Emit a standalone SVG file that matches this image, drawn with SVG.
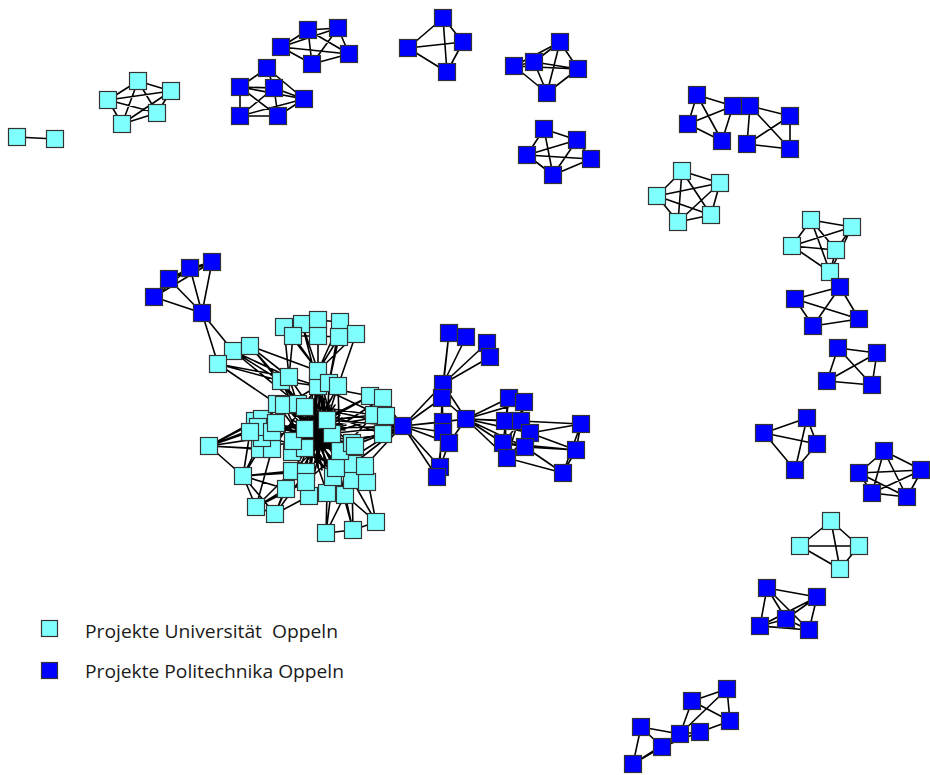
<svg xmlns="http://www.w3.org/2000/svg" xmlns:xlink="http://www.w3.org/1999/xlink" width="930" height="775" viewBox="0 0 930 775">
<style>
  .e { fill: none; stroke: #000; stroke-width: 1.6; stroke-linecap: round; }
  .lg { font-family: "Open Sans", "Noto Sans", "Liberation Sans", sans-serif; font-size: 17.5px; fill: #1a1a1a; }
</style>
<defs>
  <!-- node squares, centred on the use position -->
  <rect id="uni" x="-8.5" y="-8.5" width="17" height="17" fill="#80ffff" stroke="#333" stroke-width="1.2"/>
  <rect id="pol" x="-8.5" y="-8.5" width="17" height="17" fill="#0000ff" stroke="#333" stroke-width="1.2"/>
</defs>
<rect width="930" height="775" fill="#fff"/>

<g id="connectors">
  <!-- small isolated components -->
  <path class="e" d="M17 137L55 139"/>
  <path class="e" d="M108 100L138 81M108 100L171 91M108 100L157 113M108 100L122 124M138 81L171 91M138 81L157 113M138 81L122 124M171 91L157 113M171 91L122 124M157 113L122 124"/>
  <path class="e" d="M281 47L308 30M281 47L338 28M281 47L349 54M281 47L312 64M308 30L338 28M308 30L312 64M308 30L349 54M338 28L349 54M338 28L312 64M349 54L312 64"/>
  <path class="e" d="M267 68L240 87M267 68L274 88M267 68L304 99M240 87L274 88M240 87L240 116M240 87L278 116M240 87L304 99M274 88L240 116M274 88L304 99M274 88L278 116M240 116L278 116M240 116L304 99M278 116L304 99"/>
  <path class="e" d="M408 48L443 18M408 48L463 42M408 48L447 72M443 18L463 42M443 18L447 72M463 42L447 72"/>
  <path class="e" d="M514 66L534 62M514 66L560 42M514 66L578 69M514 66L547 93M534 62L560 42M534 62L578 69M534 62L547 93M560 42L578 69M560 42L547 93M578 69L547 93"/>
  <path class="e" d="M544 129L577 140M544 129L527 155M544 129L553 175M527 155L577 140M527 155L591 159M527 155L553 175M577 140L553 175M577 140L591 159M591 159L553 175"/>
  <path class="e" d="M697 95L688 124M697 95L733 106M697 95L722 141M688 124L733 106M688 124L722 141M733 106L722 141M750 106L790 116M750 106L747 144M750 106L790 149M790 116L747 144M790 116L790 149M747 144L790 149"/>
  <path class="e" d="M682 171L720 183M682 171L657 196M682 171L711 215M682 171L678 222M720 183L657 196M720 183L711 215M720 183L678 222M657 196L711 215M657 196L678 222M711 215L678 222"/>
  <path class="e" d="M811 220L852 227M811 220L792 246M811 220L836 250M811 220L830 272M852 227L792 246M852 227L836 250M852 227L830 272M792 246L836 250M792 246L830 272M836 250L830 272"/>
  <path class="e" d="M840 287L795 299M840 287L813 326M840 287L859 319M795 299L859 319M795 299L813 326M813 326L859 319"/>
  <path class="e" d="M838 348L877 353M838 348L827 381M838 348L872 385M877 353L827 381M877 353L872 385M827 381L872 385"/>
  <path class="e" d="M807 418L764 433M807 418L817 444M807 418L795 470M764 433L817 444M764 433L795 470M817 444L795 470"/>
  <path class="e" d="M884 451L859 473M884 451L922 470M884 451L872 493M884 451L907 497M859 473L922 470M859 473L872 493M859 473L907 497M922 470L872 493M922 470L907 497M872 493L907 497"/>
  <path class="e" d="M831 521L800 546M831 521L859 546M831 521L840 569M800 546L859 546M800 546L840 569M859 546L840 569"/>
  <path class="e" d="M767 588L817 597M767 588L786 619M767 588L760 626M767 588L809 630M817 597L786 619M817 597L809 630M786 619L760 626M786 619L809 630M760 626L809 630M760 626L817 597"/>
  <path class="e" d="M692 701L727 689M692 701L730 721M727 689L730 721M727 689L680 734M692 701L680 734M730 721L700 732M680 734L700 732M641 727L680 734M641 727L662 747M641 727L633 764M662 747L633 764M662 747L680 734M662 747L700 732M633 764L680 734"/>

  <!-- blue fan above the large cluster -->
  <path class="e" d="M154 297L169 279M154 297L190 268M154 297L212 262M169 279L190 268M169 279L212 262M190 268L212 262M154 297L202 313M169 279L202 313M190 268L202 313M212 262L202 313M202 313L218 364M202 313L233 351"/>

  <!-- large cluster: outer groups into the core -->
  <path class="e" d="M284 327L318 371M284 327L289 377M302 324L318 371M302 324L318 386M318 320L318 371M318 320L318 386M340 322L318 371M340 322L329 383M356 334L318 371M356 334L338 386M293 336L318 371M293 336L289 377M318 336L318 371M339 337L318 371M339 337L329 383M284 327L302 324M302 324L318 320M318 320L340 322M340 322L356 334M293 336L318 336M318 336L339 337"/>
  <path class="e" d="M218 364L233 351M233 351L250 346M218 364L281 381M218 364L289 377M218 364L277 404M233 351L281 381M233 351L289 377M233 351L298 404M250 346L281 381M250 346L289 377M250 346L318 371M250 346L298 404"/>
  <path class="e" d="M281 381L318 386M281 381L298 404M281 381L305 429M281 381L327 434M289 377L318 386M289 377L305 429M289 377L340 451M318 371L318 386M318 371L327 420M318 371L305 429M318 371L340 451M318 386L327 420M318 386L305 448M318 386L327 434M329 383L327 434M329 383L305 429M338 386L327 420M338 386L340 451M338 386L305 448"/>
  <path class="e" d="M370 396L402 426M383 398L402 426M374 415L402 426M386 416L402 426M383 434L402 426M370 396L327 420M370 396L305 429M370 396L318 386M383 398L327 434M383 398L305 448M374 415L327 420M374 415L298 404M374 415L340 451M386 416L305 429M386 416L327 434M383 434L340 451M383 434L305 448M383 434L298 404M402 426L352 443M402 426L340 451M402 426L327 434M402 426L305 429M402 426L327 420M402 426L365 466M402 426L353 464M402 426L318 386M402 426L336 468M402 426L298 404"/>
  <path class="e" d="M255 421L305 429M262 419L318 386M258 427L327 434M250 432L305 448M272 432L327 420M276 423L340 451M262 438L305 429M260 449L327 434M272 449L318 386M277 404L327 434M284 405L305 448M298 404L340 451M305 407L327 434M293 441L340 451M292 452L327 420M305 448L352 443M332 434L292 471M340 451L306 482M352 443L292 452M355 446L305 429M365 466L305 429M353 464L298 404M336 468L318 386M292 471L327 420M306 472L318 386M306 482L327 434M333 477L305 429M352 480L305 448M367 482L327 420M286 489L327 434M309 496L318 386M327 493L305 429M345 495L327 420M298 404L336 468M305 407L333 477M318 386L327 493M284 405L352 480M277 404L345 495M327 420L309 496M262 419L340 451M255 421L327 434M250 432L327 420M298 404L305 448M305 407L340 451M318 386L305 448M284 405L327 434M298 404L352 443M305 429L353 464M327 420L306 472M293 441L336 468M305 448L333 477"/>
  <!-- dense heart of the cluster -->
  <path class="e" d="M300 400L330 470M305 400L340 465M310 398L322 470M315 395L318 468M320 395L310 470M325 398L300 468M330 400L296 460M335 405L300 455M290 410L345 455M292 420L348 448M295 430L350 440M296 440L346 425M300 450L340 415M305 455L335 410M310 460L330 405M315 462L325 402M290 425L345 430M292 435L344 442M300 415L340 440M298 445L342 418M310 420L330 460M318 412L318 466M305 410L338 462M332 410L306 462"/>
  <path class="e" d="M209 446L255 421M209 446L258 427M209 446L250 432M209 446L262 438M209 446L260 449M209 446L272 449M209 446L262 419M209 446L243 476M243 476L260 449M243 476L262 438M243 476L292 471M243 476L286 489M243 476L306 472M243 476L256 507M243 476L275 514M243 476L250 432M256 507L275 514M256 507L286 489M256 507L292 471M256 507L306 482M256 507L272 449M275 514L286 489M275 514L292 471M275 514L306 472M275 514L309 496"/>
  <path class="e" d="M326 533L327 493M326 533L333 477M326 533L345 495M326 533L353 530M353 530L345 495M353 530L352 480M353 530L336 468M376 522L345 495M376 522L352 480M376 522L365 466M376 522L353 530"/>

  <!-- blue component right of the large cluster -->
  <path class="e" d="M443 384L449 333M443 384L466 337M443 384L487 343M443 384L490 357M442 398L449 333M403 426L443 384M403 426L442 398M403 426L443 422M403 426L443 432M403 426L449 443M403 426L440 467M403 426L437 477M403 426L466 419M443 384L466 419M442 398L466 419M443 422L466 419M449 443L466 419M443 384L442 398M442 398L443 422M443 422L443 432M449 443L440 467M440 467L437 477M442 398L440 467M443 432L437 477"/>
  <path class="e" d="M466 419L509 398M466 419L524 402M466 419L505 421M466 419L521 421M466 419L530 433M466 419L503 443M466 419L525 447M466 419L507 458M509 398L505 421M509 398L503 443M524 402L521 421M524 402L507 458M505 421L507 458M521 421L503 443M530 433L507 458M503 443L525 447M521 421L581 424M530 433L581 424M525 447L576 450M530 433L576 450M507 458L563 473M525 447L563 473M503 443L576 450M581 424L576 450M576 450L563 473M581 424L563 473"/>
</g>

<g id="nodes">
  <!-- Universität Oppeln -->
  <g id="u1"><use href="#uni" x="17" y="137"/></g>
  <g id="u2"><use href="#uni" x="55" y="139"/></g>
  <g id="u3"><use href="#uni" x="108" y="100"/></g>
  <g id="u4"><use href="#uni" x="138" y="81"/></g>
  <g id="u5"><use href="#uni" x="171" y="91"/></g>
  <g id="u6"><use href="#uni" x="157" y="113"/></g>
  <g id="u7"><use href="#uni" x="122" y="124"/></g>
  <g id="u8"><use href="#uni" x="682" y="171"/></g>
  <g id="u9"><use href="#uni" x="720" y="183"/></g>
  <g id="u10"><use href="#uni" x="657" y="196"/></g>
  <g id="u11"><use href="#uni" x="711" y="215"/></g>
  <g id="u12"><use href="#uni" x="678" y="222"/></g>
  <g id="u13"><use href="#uni" x="811" y="220"/></g>
  <g id="u14"><use href="#uni" x="852" y="227"/></g>
  <g id="u15"><use href="#uni" x="792" y="246"/></g>
  <g id="u16"><use href="#uni" x="836" y="250"/></g>
  <g id="u17"><use href="#uni" x="830" y="272"/></g>
  <g id="u18"><use href="#uni" x="831" y="521"/></g>
  <g id="u19"><use href="#uni" x="800" y="546"/></g>
  <g id="u20"><use href="#uni" x="859" y="546"/></g>
  <g id="u21"><use href="#uni" x="840" y="569"/></g>

  <!-- large Universität cluster -->
  <g id="c1"><use href="#uni" x="284" y="327"/></g>
  <g id="c2"><use href="#uni" x="302" y="324"/></g>
  <g id="c3"><use href="#uni" x="318" y="320"/></g>
  <g id="c4"><use href="#uni" x="340" y="322"/></g>
  <g id="c5"><use href="#uni" x="356" y="334"/></g>
  <g id="c6"><use href="#uni" x="293" y="336"/></g>
  <g id="c7"><use href="#uni" x="318" y="336"/></g>
  <g id="c8"><use href="#uni" x="339" y="337"/></g>
  <g id="c9"><use href="#uni" x="233" y="351"/></g>
  <g id="c10"><use href="#uni" x="250" y="346"/></g>
  <g id="c11"><use href="#uni" x="218" y="364"/></g>
  <g id="c12"><use href="#uni" x="209" y="446"/></g>
  <g id="c13"><use href="#uni" x="243" y="476"/></g>
  <g id="c14"><use href="#uni" x="256" y="507"/></g>
  <g id="c15"><use href="#uni" x="275" y="514"/></g>
  <g id="c16"><use href="#uni" x="326" y="533"/></g>
  <g id="c17"><use href="#uni" x="353" y="530"/></g>
  <g id="c18"><use href="#uni" x="376" y="522"/></g>
  <g id="c19"><use href="#uni" x="286" y="489"/></g>
  <g id="c20"><use href="#uni" x="309" y="496"/></g>
  <g id="c21"><use href="#uni" x="327" y="493"/></g>
  <g id="c22"><use href="#uni" x="345" y="495"/></g>
  <g id="c23"><use href="#uni" x="292" y="471"/></g>
  <g id="c24"><use href="#uni" x="306" y="472"/></g>
  <g id="c25"><use href="#uni" x="306" y="482"/></g>
  <g id="c26"><use href="#uni" x="333" y="477"/></g>
  <g id="c27"><use href="#uni" x="352" y="480"/></g>
  <g id="c28"><use href="#uni" x="367" y="482"/></g>
  <g id="c29"><use href="#uni" x="336" y="468"/></g>
  <g id="c30"><use href="#uni" x="353" y="464"/></g>
  <g id="c31"><use href="#uni" x="365" y="466"/></g>
  <g id="c32"><use href="#uni" x="260" y="449"/></g>
  <g id="c33"><use href="#uni" x="272" y="449"/></g>
  <g id="c34"><use href="#uni" x="292" y="452"/></g>
  <g id="c35"><use href="#uni" x="305" y="448"/></g>
  <g id="c36"><use href="#uni" x="340" y="451"/></g>
  <g id="c37"><use href="#uni" x="352" y="443"/></g>
  <g id="c38"><use href="#uni" x="355" y="446"/></g>
  <g id="c39"><use href="#uni" x="262" y="438"/></g>
  <g id="c40"><use href="#uni" x="293" y="441"/></g>
  <g id="c41"><use href="#uni" x="332" y="434"/></g>
  <g id="c42"><use href="#uni" x="255" y="421"/></g>
  <g id="c43"><use href="#uni" x="262" y="419"/></g>
  <g id="c44"><use href="#uni" x="258" y="427"/></g>
  <g id="c45"><use href="#uni" x="250" y="432"/></g>
  <g id="c46"><use href="#uni" x="272" y="432"/></g>
  <g id="c47"><use href="#uni" x="276" y="423"/></g>
  <g id="c48"><use href="#uni" x="305" y="429"/></g>
  <g id="c49"><use href="#uni" x="327" y="420"/></g>
  <g id="c50"><use href="#uni" x="277" y="404"/></g>
  <g id="c51"><use href="#uni" x="284" y="405"/></g>
  <g id="c52"><use href="#uni" x="298" y="404"/></g>
  <g id="c53"><use href="#uni" x="305" y="407"/></g>
  <g id="c54"><use href="#uni" x="281" y="381"/></g>
  <g id="c55"><use href="#uni" x="289" y="377"/></g>
  <g id="c56"><use href="#uni" x="318" y="386"/></g>
  <g id="c57"><use href="#uni" x="318" y="371"/></g>
  <g id="c58"><use href="#uni" x="329" y="383"/></g>
  <g id="c59"><use href="#uni" x="338" y="386"/></g>
  <g id="c60"><use href="#uni" x="370" y="396"/></g>
  <g id="c61"><use href="#uni" x="383" y="398"/></g>
  <g id="c62"><use href="#uni" x="374" y="415"/></g>
  <g id="c63"><use href="#uni" x="386" y="416"/></g>
  <g id="c64"><use href="#uni" x="383" y="434"/></g>

  <!-- Politechnika Oppeln -->
  <g id="p1"><use href="#pol" x="281" y="47"/></g>
  <g id="p2"><use href="#pol" x="308" y="30"/></g>
  <g id="p3"><use href="#pol" x="338" y="28"/></g>
  <g id="p4"><use href="#pol" x="349" y="54"/></g>
  <g id="p5"><use href="#pol" x="312" y="64"/></g>
  <g id="p6"><use href="#pol" x="267" y="68"/></g>
  <g id="p7"><use href="#pol" x="240" y="87"/></g>
  <g id="p8"><use href="#pol" x="274" y="88"/></g>
  <g id="p9"><use href="#pol" x="304" y="99"/></g>
  <g id="p10"><use href="#pol" x="240" y="116"/></g>
  <g id="p11"><use href="#pol" x="278" y="116"/></g>
  <g id="p12"><use href="#pol" x="443" y="18"/></g>
  <g id="p13"><use href="#pol" x="463" y="42"/></g>
  <g id="p14"><use href="#pol" x="408" y="48"/></g>
  <g id="p15"><use href="#pol" x="447" y="72"/></g>
  <g id="p16"><use href="#pol" x="560" y="42"/></g>
  <g id="p17"><use href="#pol" x="514" y="66"/></g>
  <g id="p18"><use href="#pol" x="534" y="62"/></g>
  <g id="p19"><use href="#pol" x="578" y="69"/></g>
  <g id="p20"><use href="#pol" x="547" y="93"/></g>
  <g id="p21"><use href="#pol" x="544" y="129"/></g>
  <g id="p22"><use href="#pol" x="577" y="140"/></g>
  <g id="p23"><use href="#pol" x="527" y="155"/></g>
  <g id="p24"><use href="#pol" x="591" y="159"/></g>
  <g id="p25"><use href="#pol" x="553" y="175"/></g>
  <g id="p26"><use href="#pol" x="697" y="95"/></g>
  <g id="p27"><use href="#pol" x="688" y="124"/></g>
  <g id="p28"><use href="#pol" x="733" y="106"/></g>
  <g id="p29"><use href="#pol" x="750" y="106"/></g>
  <g id="p30"><use href="#pol" x="722" y="141"/></g>
  <g id="p31"><use href="#pol" x="790" y="116"/></g>
  <g id="p32"><use href="#pol" x="747" y="144"/></g>
  <g id="p33"><use href="#pol" x="790" y="149"/></g>
  <g id="p34"><use href="#pol" x="840" y="287"/></g>
  <g id="p35"><use href="#pol" x="795" y="299"/></g>
  <g id="p36"><use href="#pol" x="859" y="319"/></g>
  <g id="p37"><use href="#pol" x="813" y="326"/></g>
  <g id="p38"><use href="#pol" x="838" y="348"/></g>
  <g id="p39"><use href="#pol" x="877" y="353"/></g>
  <g id="p40"><use href="#pol" x="827" y="381"/></g>
  <g id="p41"><use href="#pol" x="872" y="385"/></g>
  <g id="p42"><use href="#pol" x="807" y="418"/></g>
  <g id="p43"><use href="#pol" x="764" y="433"/></g>
  <g id="p44"><use href="#pol" x="817" y="444"/></g>
  <g id="p45"><use href="#pol" x="795" y="470"/></g>
  <g id="p46"><use href="#pol" x="884" y="451"/></g>
  <g id="p47"><use href="#pol" x="859" y="473"/></g>
  <g id="p48"><use href="#pol" x="921" y="470"/></g>
  <g id="p49"><use href="#pol" x="872" y="493"/></g>
  <g id="p50"><use href="#pol" x="907" y="497"/></g>
  <g id="p51"><use href="#pol" x="767" y="588"/></g>
  <g id="p52"><use href="#pol" x="817" y="597"/></g>
  <g id="p53"><use href="#pol" x="760" y="626"/></g>
  <g id="p54"><use href="#pol" x="809" y="630"/></g>
  <g id="p55"><use href="#pol" x="786" y="619"/></g>
  <g id="p56"><use href="#pol" x="727" y="689"/></g>
  <g id="p57"><use href="#pol" x="692" y="701"/></g>
  <g id="p58"><use href="#pol" x="730" y="721"/></g>
  <g id="p59"><use href="#pol" x="641" y="727"/></g>
  <g id="p60"><use href="#pol" x="633" y="764"/></g>
  <g id="p61"><use href="#pol" x="662" y="747"/></g>
  <g id="p62"><use href="#pol" x="680" y="734"/></g>
  <g id="p63"><use href="#pol" x="700" y="732"/></g>
  <g id="p64"><use href="#pol" x="212" y="262"/></g>
  <g id="p65"><use href="#pol" x="190" y="268"/></g>
  <g id="p66"><use href="#pol" x="169" y="279"/></g>
  <g id="p67"><use href="#pol" x="154" y="297"/></g>
  <g id="p68"><use href="#pol" x="202" y="313"/></g>
  <g id="p69"><use href="#pol" x="449" y="333"/></g>
  <g id="p70"><use href="#pol" x="466" y="337"/></g>
  <g id="p71"><use href="#pol" x="487" y="343"/></g>
  <g id="p72"><use href="#pol" x="490" y="357"/></g>
  <g id="p73"><use href="#pol" x="443" y="384"/></g>
  <g id="p74"><use href="#pol" x="442" y="398"/></g>
  <g id="p75"><use href="#pol" x="403" y="426"/></g>
  <g id="p76"><use href="#pol" x="443" y="422"/></g>
  <g id="p77"><use href="#pol" x="443" y="432"/></g>
  <g id="p78"><use href="#pol" x="449" y="443"/></g>
  <g id="p79"><use href="#pol" x="440" y="467"/></g>
  <g id="p80"><use href="#pol" x="437" y="477"/></g>
  <g id="p81"><use href="#pol" x="466" y="419"/></g>
  <g id="p82"><use href="#pol" x="509" y="398"/></g>
  <g id="p83"><use href="#pol" x="524" y="402"/></g>
  <g id="p84"><use href="#pol" x="505" y="421"/></g>
  <g id="p85"><use href="#pol" x="521" y="421"/></g>
  <g id="p86"><use href="#pol" x="530" y="433"/></g>
  <g id="p87"><use href="#pol" x="503" y="443"/></g>
  <g id="p88"><use href="#pol" x="525" y="447"/></g>
  <g id="p89"><use href="#pol" x="507" y="458"/></g>
  <g id="p90"><use href="#pol" x="581" y="424"/></g>
  <g id="p91"><use href="#pol" x="576" y="450"/></g>
  <g id="p92"><use href="#pol" x="563" y="473"/></g>
</g>

<g id="legend">
  <rect x="41.5" y="620.5" width="16" height="16" fill="#80ffff" stroke="#333" stroke-width="1.2"/>
  <text class="lg" x="85" y="638" textLength="253" lengthAdjust="spacingAndGlyphs">Projekte Universität&#160; Oppeln</text>
  <rect x="41.5" y="662.5" width="16" height="16" fill="#0000ff" stroke="#333" stroke-width="1.2"/>
  <text class="lg" x="85" y="678" textLength="259" lengthAdjust="spacingAndGlyphs">Projekte Politechnika Oppeln</text>
</g>
</svg>
